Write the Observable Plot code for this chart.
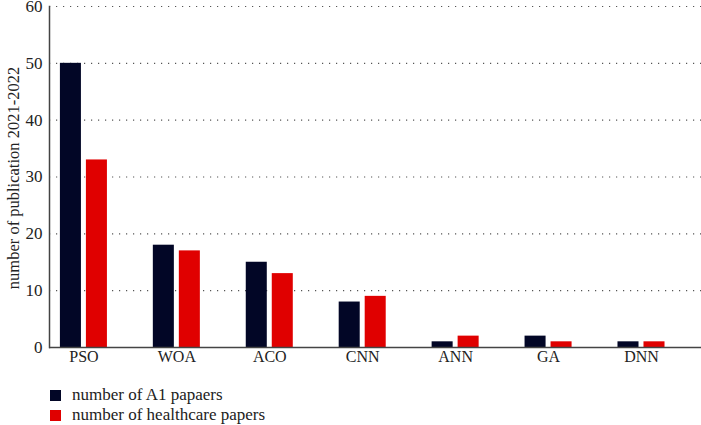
<!DOCTYPE html>
<html>
<head>
<meta charset="utf-8">
<script src="https://cdn.jsdelivr.net/npm/d3@7"></script>
<script src="https://cdn.jsdelivr.net/npm/@observablehq/plot@0.6"></script>
<style>
  html, body { margin: 0; padding: 0; background: #fff; }
  body { width: 701px; height: 425px; overflow: hidden; font-family: "Liberation Serif", "DejaVu Serif", serif; }
  #legend { position: relative; height: 55px; }
  .item { position: absolute; left: 50px; display: flex; align-items: center; font-size: 17px; line-height: 16px; color: #222; }
  .sw { width: 11px; height: 11px; margin-right: 11px; }
</style>
</head>
<body>
<div id="chart"></div>
<div id="legend"></div>
<script>
const categories = ["PSO", "WOA", "ACO", "CNN", "ANN", "GA", "DNN"];
const seriesNames = ["number of A1 papaers", "number of healthcare papers"];
const a1Papers = [50, 18, 15, 8, 1, 2, 1];
const healthcarePapers = [33, 17, 13, 9, 2, 1, 1];
const yTicks = [0, 10, 20, 30, 40, 50, 60];
const colors = ["#020626", "#e00000"];

const a1Data = categories.map((c, i) => ({category: c, value: a1Papers[i]}));
const hcData = categories.map((c, i) => ({category: c, value: healthcarePapers[i]}));

const chart = Plot.plot({
  width: 701,
  height: 370,
  marginLeft: 49,
  marginRight: 0,
  marginTop: 6,
  marginBottom: 23,
  style: {fontFamily: "Liberation Serif, DejaVu Serif, serif", fontSize: "16px", color: "#222", background: "#fff", overflow: "visible"},
  x: {domain: categories, paddingInner: 0.494, paddingOuter: 0.255, align: 0.23, round: false, label: null},
  y: {domain: [0, 60], label: null},
  marks: [
    Plot.ruleY(yTicks.filter(d => d > 0), {stroke: "#555", strokeWidth: 1.2, strokeDasharray: "1.2,5.8"}),
    Plot.barY(a1Data, {x: "category", y: "value", fill: colors[0], insetRight: 26}),
    Plot.barY(hcData, {x: "category", y: "value", fill: colors[1], insetLeft: 26}),
    Plot.axisY({ticks: yTicks, tickSize: 0, tickPadding: 7, label: null, fontSize: 17}),
    Plot.axisX({tickSize: 0, tickPadding: 3, label: null, fontSize: 16}),
    Plot.text(["number of publication 2021-2022"], {frameAnchor: "left", dx: -36, dy: 1, rotate: -90, textAnchor: "middle", fontSize: 16.5, fill: "#222"}),
    Plot.ruleY([0], {stroke: "#444", strokeWidth: 1.5}),
    Plot.frame({anchor: "left", stroke: "#444", strokeWidth: 1.5})
  ]
});
document.getElementById("chart").appendChild(chart);

const legend = document.getElementById("legend");
seriesNames.forEach((name, i) => {
  const item = document.createElement("div");
  item.className = "item";
  item.style.top = (17 + i * 20) + "px";
  const sw = document.createElement("span");
  sw.className = "sw";
  sw.style.background = colors[i];
  const t = document.createElement("span");
  t.textContent = name;
  item.appendChild(sw);
  item.appendChild(t);
  legend.appendChild(item);
});
</script>
</body>
</html>
